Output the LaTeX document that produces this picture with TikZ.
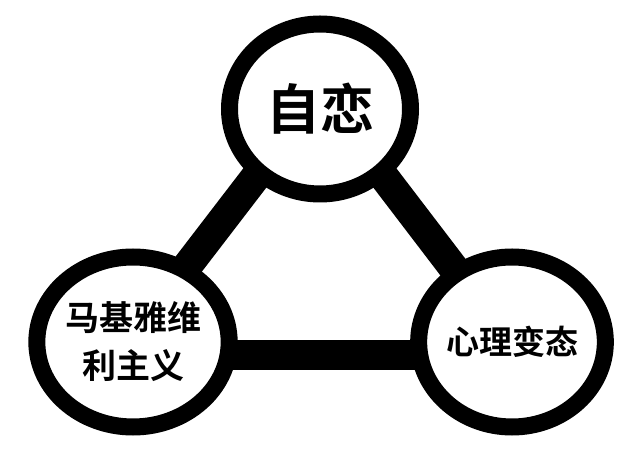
\documentclass[tikz,border=0pt]{standalone}
\usepackage{fontspec}
\newfontfamily\cjk{Noto Sans CJK SC}[BoldFont={Noto Sans CJK SC Bold}]
\usetikzlibrary{shapes.geometric}

\tikzset{
    topic/.style={draw, ellipse, line width=17pt, fill=white, minimum width=181pt,
        minimum height=170pt, inner sep=0pt, align=center},
    link/.style={line width=30pt}
}

\begin{document}
\begin{tikzpicture}[x=1pt, y=1pt]
    \useasboundingbox (0,0) rectangle (640,463);
    % centres of the three circles
    \coordinate (self) at (320,354);
    \coordinate (mach) at (133,121);
    \coordinate (psych) at (512,121);

    % thick bars behind the circles
    \draw[link] ([xshift=-14pt, yshift=-13pt]mach) -- ([yshift=16pt]self);
    \draw[link] ([yshift=16pt]self) -- ([xshift=8pt, yshift=-13pt]psych);
    \draw[link] ([xshift=-14pt, yshift=-13pt]mach) -- ([xshift=8pt, yshift=-13pt]psych);

    \node[topic, font=\cjk\bfseries\fontsize{54}{60}\selectfont] (selfc) at (self) {自恋};
    \node[topic, font=\cjk\bfseries\fontsize{34}{48}\selectfont] (machc) at (mach) {马基雅维\\利主义};
    \node[topic, font=\cjk\bfseries\fontsize{33}{40}\selectfont] (psychc) at (psych) {心理变态};
\end{tikzpicture}
\end{document}
